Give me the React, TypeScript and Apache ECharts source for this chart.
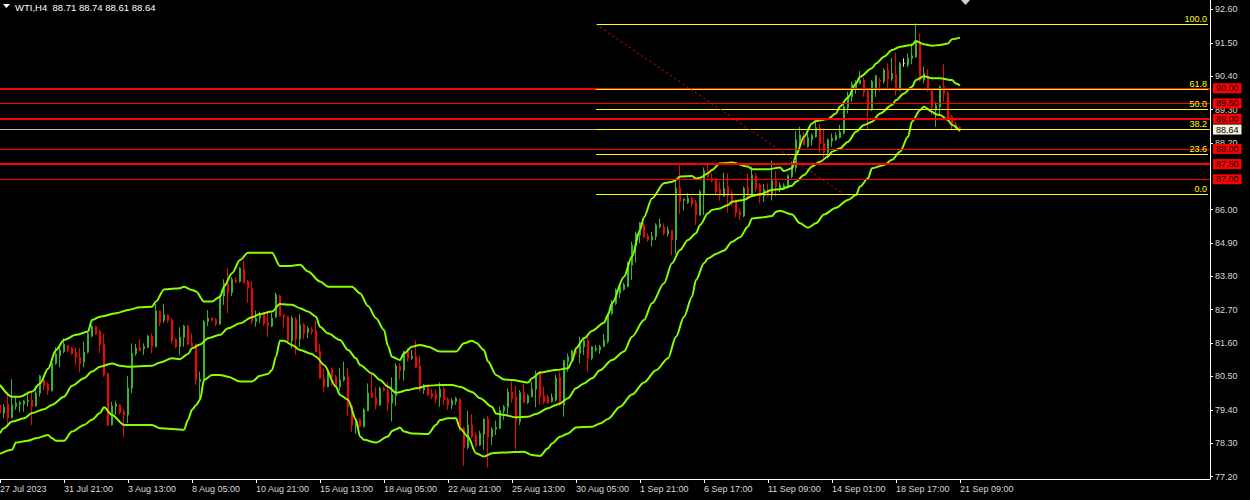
import React, { useEffect, useRef } from "react";
import * as echarts from "echarts";

const header = "WTI,H4  88.71 88.74 88.61 88.64";
const xTickIndex = [0, 16, 32, 48, 64, 80, 96, 112, 128, 144, 160, 176, 192, 208, 224, 240];
const xTickLabels = ["27 Jul 2023", "31 Jul 21:00", "3 Aug 13:00", "8 Aug 05:00", "10 Aug 21:00", "15 Aug 13:00", "18 Aug 05:00", "22 Aug 21:00", "25 Aug 13:00", "30 Aug 05:00", "1 Sep 21:00", "6 Sep 17:00", "11 Sep 09:00", "14 Sep 01:00", "18 Sep 17:00", "21 Sep 09:00"];
const priceTicks = [77.2, 78.3, 79.4, 80.5, 81.6, 82.7, 83.8, 84.9, 86.0, 88.2, 89.3, 90.4, 91.5, 92.6];
const slotCount = 303;

// [open, close, low, high]
const candles: number[][] = [
  [79.56, 79.29, 79.23, 79.67], [79.29, 79.48, 79.12, 79.59], [79.59, 79.14, 78.85, 79.97], [79.14, 79.56, 79.12, 80.41],
  [79.51, 79.62, 79.40, 79.84], [79.59, 79.64, 79.31, 79.69], [79.59, 79.69, 79.34, 79.72], [79.67, 79.72, 79.51, 80.00],
  [79.72, 79.51, 78.90, 80.00], [79.53, 79.95, 79.50, 80.19], [79.95, 80.52, 79.84, 80.55], [80.38, 80.19, 80.05, 80.49],
  [80.24, 80.03, 79.89, 80.30], [80.03, 80.93, 80.00, 80.95], [80.93, 81.24, 80.88, 81.46], [81.18, 81.37, 80.80, 81.50],
  [81.32, 81.56, 81.26, 81.76], [81.52, 81.37, 81.29, 81.54], [81.42, 81.26, 81.21, 81.48], [81.29, 81.13, 80.88, 81.46],
  [81.13, 80.93, 80.63, 81.43], [80.97, 81.30, 80.80, 81.65], [81.30, 81.92, 81.26, 82.01], [81.83, 82.16, 81.79, 82.18],
  [82.14, 81.90, 81.87, 82.16], [81.98, 81.54, 81.26, 82.05], [81.57, 80.55, 80.49, 81.90], [80.60, 78.90, 78.85, 80.60],
  [78.90, 79.53, 78.88, 79.67], [79.51, 79.59, 79.23, 79.70], [79.56, 79.31, 79.26, 79.59], [79.34, 79.23, 78.49, 79.42],
  [79.23, 80.11, 78.96, 80.52], [80.11, 81.26, 79.95, 81.59], [81.26, 81.43, 81.18, 81.57], [81.45, 81.35, 81.32, 81.72],
  [81.42, 81.48, 81.21, 81.59], [81.46, 81.83, 81.43, 81.87], [81.83, 81.48, 81.26, 81.92], [81.48, 82.66, 81.46, 82.89],
  [82.66, 82.27, 82.16, 82.68], [82.34, 82.53, 82.27, 82.89], [82.53, 82.34, 82.27, 82.56], [82.36, 81.68, 81.59, 82.42],
  [81.72, 81.48, 81.43, 81.76], [81.48, 81.79, 81.21, 82.12], [81.79, 82.16, 81.48, 82.20], [82.16, 81.57, 81.54, 82.20],
  [81.59, 81.50, 81.48, 81.92], [81.56, 80.38, 80.22, 81.58], [80.33, 80.41, 79.75, 80.66], [80.38, 82.31, 80.33, 82.36],
  [82.31, 82.42, 82.16, 82.69], [82.42, 82.36, 82.31, 82.45], [82.38, 82.23, 82.16, 82.42], [82.23, 83.15, 82.20, 83.19],
  [83.15, 83.57, 82.86, 83.70], [83.57, 83.26, 82.58, 84.07], [83.26, 83.70, 83.15, 83.77], [83.68, 83.63, 83.57, 83.77],
  [83.63, 84.07, 83.59, 84.10], [84.03, 83.59, 83.57, 84.32], [83.63, 83.41, 82.93, 83.68], [83.41, 82.31, 82.23, 83.63],
  [82.31, 82.42, 82.14, 82.67], [82.42, 82.56, 82.25, 82.64], [82.56, 82.25, 82.16, 82.64], [82.27, 82.16, 81.79, 82.67],
  [82.16, 82.42, 82.12, 82.60], [82.47, 83.19, 82.42, 83.26], [83.15, 82.49, 82.47, 83.19], [82.53, 82.45, 82.12, 82.55],
  [82.47, 81.68, 81.65, 82.49], [81.68, 82.42, 81.43, 82.49], [82.38, 81.73, 81.21, 82.45], [81.73, 82.20, 81.48, 82.56],
  [82.20, 81.92, 81.73, 82.25], [81.95, 82.09, 81.76, 82.16], [82.05, 81.98, 81.87, 82.12], [82.01, 81.32, 81.29, 82.34],
  [81.32, 80.44, 80.41, 81.57], [80.44, 80.16, 79.97, 80.77], [80.16, 80.63, 80.14, 80.66], [80.74, 80.49, 80.19, 80.80],
  [80.49, 80.16, 80.14, 80.55], [80.16, 80.38, 80.03, 80.77], [80.38, 80.49, 80.33, 80.99], [80.49, 79.50, 79.20, 80.77],
  [79.53, 78.90, 78.68, 79.56], [78.85, 79.07, 78.60, 79.12], [79.07, 78.85, 78.82, 79.12], [78.85, 79.40, 78.82, 79.45],
  [79.37, 79.95, 79.35, 80.27], [79.95, 79.81, 79.78, 80.60], [79.81, 79.56, 79.42, 80.14], [79.56, 80.11, 79.53, 80.16],
  [80.11, 80.03, 80.00, 80.16], [80.03, 79.62, 79.37, 80.33], [79.62, 79.90, 79.01, 80.47], [79.86, 80.84, 79.53, 80.93],
  [80.84, 80.69, 80.40, 80.93], [80.69, 81.32, 80.36, 81.35], [81.32, 81.10, 80.99, 81.43], [81.10, 81.17, 81.04, 81.37],
  [81.17, 80.80, 80.77, 81.68], [80.84, 80.05, 80.00, 81.17], [80.05, 80.16, 79.92, 80.25], [80.19, 79.89, 79.86, 80.22],
  [79.94, 79.83, 79.75, 80.08], [79.92, 79.75, 79.61, 80.08], [79.81, 80.08, 79.50, 80.30], [80.10, 79.72, 79.56, 80.22],
  [79.75, 79.56, 79.39, 79.81], [79.56, 79.70, 79.42, 79.78], [79.67, 79.78, 79.56, 79.83], [79.75, 78.73, 78.68, 79.78],
  [78.79, 78.16, 77.55, 78.84], [78.16, 78.90, 78.10, 79.37], [78.90, 78.51, 78.46, 79.26], [78.54, 78.21, 78.16, 78.65],
  [78.24, 78.62, 78.21, 78.71], [78.60, 79.09, 78.08, 79.12], [79.09, 78.49, 77.50, 79.20], [78.51, 78.76, 78.24, 78.82],
  [78.76, 78.82, 78.57, 79.04], [78.79, 79.37, 78.76, 79.50], [79.37, 79.50, 79.07, 79.56], [79.50, 79.99, 79.26, 80.11],
  [79.99, 79.78, 79.64, 80.33], [79.83, 79.01, 78.08, 80.19], [79.01, 79.97, 78.90, 80.05], [79.97, 79.64, 79.61, 80.25],
  [79.64, 79.86, 79.59, 79.92], [79.83, 80.08, 79.81, 80.33], [80.08, 80.55, 79.48, 80.69], [80.66, 79.83, 79.56, 80.69],
  [79.86, 79.67, 79.59, 80.16], [79.81, 79.64, 79.59, 79.89], [79.67, 79.81, 79.64, 79.94], [79.72, 80.44, 79.67, 80.55],
  [80.47, 79.56, 79.53, 80.66], [79.56, 81.02, 79.17, 81.04], [80.99, 81.15, 80.66, 81.26], [81.02, 81.35, 80.99, 81.37],
  [81.37, 81.26, 81.21, 81.43], [81.26, 81.54, 80.93, 81.81], [81.48, 81.68, 81.21, 81.79], [81.68, 81.10, 80.66, 81.81],
  [81.10, 81.48, 81.04, 81.50], [81.37, 81.43, 81.32, 81.54], [81.37, 81.48, 81.24, 81.54], [81.48, 81.70, 81.46, 81.90],
  [81.65, 82.58, 81.59, 82.60], [82.58, 82.97, 82.52, 83.02], [82.91, 83.35, 82.86, 83.40], [83.24, 83.46, 83.08, 83.52],
  [83.37, 83.52, 83.33, 83.59], [83.46, 84.23, 83.44, 84.28], [84.17, 84.83, 83.68, 84.94], [84.83, 85.20, 84.25, 85.27],
  [85.16, 85.57, 84.89, 85.60], [85.49, 85.11, 85.05, 85.55], [85.13, 85.00, 84.94, 85.22], [85.00, 85.11, 84.78, 85.27],
  [85.11, 85.49, 85.00, 85.55], [85.44, 85.53, 85.38, 85.71], [85.42, 85.22, 85.16, 85.55], [85.20, 85.33, 85.11, 85.44],
  [85.31, 85.00, 84.50, 85.33], [85.00, 86.70, 84.54, 87.03], [86.70, 86.26, 85.86, 87.53], [86.30, 86.34, 85.96, 86.37],
  [86.23, 86.37, 86.19, 86.54], [86.37, 86.19, 86.10, 86.43], [86.23, 85.82, 85.49, 86.32], [85.82, 86.59, 85.79, 86.65],
  [86.52, 87.28, 85.82, 87.39], [87.28, 87.09, 87.03, 87.55], [87.03, 86.95, 86.89, 87.20], [86.98, 86.59, 86.51, 87.03],
  [86.67, 86.48, 86.30, 86.92], [86.45, 86.70, 86.43, 87.22], [86.76, 86.48, 85.90, 87.20], [86.54, 86.19, 86.12, 86.63],
  [86.30, 85.90, 85.75, 86.34], [85.93, 85.82, 85.66, 86.01], [85.79, 86.70, 85.75, 86.76], [86.74, 86.48, 86.30, 87.20],
  [86.48, 87.14, 86.43, 87.42], [87.11, 86.70, 86.59, 87.20], [86.81, 86.43, 86.21, 86.87], [86.45, 86.67, 86.26, 86.84],
  [86.65, 86.48, 86.43, 86.87], [86.48, 86.95, 86.30, 87.61], [86.95, 86.76, 86.43, 87.27], [86.70, 86.81, 86.57, 86.90],
  [86.68, 86.79, 86.65, 86.87], [86.72, 87.12, 86.70, 87.16], [87.09, 87.45, 87.03, 87.58], [87.38, 88.30, 87.25, 88.59],
  [88.26, 88.46, 88.11, 88.73], [88.46, 88.15, 88.11, 88.55], [88.08, 88.37, 88.04, 88.51], [88.30, 88.44, 88.11, 88.51],
  [88.40, 88.70, 88.37, 88.92], [88.70, 88.18, 87.86, 88.84], [88.18, 87.89, 87.71, 88.68], [87.89, 88.30, 87.69, 88.35],
  [88.26, 88.35, 88.07, 88.51], [88.30, 88.44, 88.26, 88.55], [88.37, 88.55, 88.35, 88.79], [88.52, 89.39, 88.48, 89.50],
  [89.36, 89.76, 89.17, 89.89], [89.72, 90.13, 89.54, 90.22], [89.98, 90.22, 89.83, 90.27], [90.16, 90.27, 90.13, 90.57],
  [90.27, 89.87, 89.72, 90.35], [89.89, 89.32, 88.62, 90.00], [89.32, 90.22, 89.25, 90.27], [89.94, 90.42, 89.72, 90.44],
  [90.27, 90.22, 89.89, 90.35], [90.22, 90.60, 90.16, 90.66], [90.60, 90.31, 90.02, 90.82], [90.31, 90.49, 90.24, 91.01],
  [90.46, 89.91, 89.76, 91.18], [89.94, 90.82, 89.91, 90.88], [90.82, 90.82, 90.71, 90.99], [90.77, 90.99, 90.71, 91.15],
  [90.99, 91.07, 90.79, 91.48], [91.04, 91.54, 91.01, 92.14], [91.52, 90.27, 90.22, 91.81], [90.27, 90.49, 90.16, 90.71],
  [90.38, 89.94, 89.89, 90.63], [89.91, 89.39, 89.12, 89.94], [89.28, 89.43, 88.73, 89.54], [89.39, 90.05, 89.12, 90.09],
  [90.05, 89.83, 89.56, 90.79], [89.87, 88.99, 88.95, 89.89], [89.06, 88.81, 88.62, 89.12], [88.81, 88.70, 88.62, 88.88],
  [88.71, 88.64, 88.61, 88.74],
];
const dojiIndex = 226;

// Bollinger bands: [bar index, price]
const upperBand: number[][] = [
  [0, 80.22], [3, 79.83], [5, 79.83], [8, 80.0], [10, 80.27], [12, 80.75], [14, 81.37], [16, 81.7], [19, 81.87], [22, 81.98],
  [23, 82.36], [25, 82.47], [29, 82.58], [32, 82.69], [35, 82.78], [38, 82.8], [39, 82.97], [41, 83.37], [45, 83.41], [46, 83.46],
  [48, 83.35], [49, 83.3], [51, 82.97], [53, 82.97], [55, 83.13], [56, 83.46], [58, 83.9], [60, 84.34], [62, 84.58], [68, 84.58],
  [70, 84.14], [72, 84.14], [75, 84.18], [77, 83.96], [80, 83.63], [82, 83.46], [88, 83.46], [90, 83.24], [92, 82.82], [94, 82.42],
  [96, 82.03], [97, 81.5], [98, 81.15], [100, 81.04], [101, 81.26], [103, 81.48], [105, 81.54], [107, 81.48], [110, 81.32], [114, 81.32],
  [116, 81.59], [118, 81.68], [119, 81.61], [121, 81.37], [122, 80.99], [124, 80.55], [126, 80.4], [128, 80.38], [132, 80.3], [133, 80.44],
  [135, 80.63], [139, 80.71], [142, 80.77], [143, 80.99], [144, 81.43], [146, 81.76], [148, 82.0], [151, 82.27], [152, 82.53], [153, 82.91],
  [156, 83.79], [158, 84.45], [160, 85.33], [161, 85.75], [163, 86.37], [166, 86.87], [168, 86.92], [169, 86.98], [170, 87.09], [173, 87.11],
  [174, 87.02], [175, 87.05], [177, 87.2], [178, 87.31], [180, 87.53], [183, 87.55], [187, 87.42], [188, 87.33], [192, 87.33], [195, 87.39],
  [196, 87.27], [198, 87.36], [199, 87.8], [201, 88.4], [203, 88.84], [204, 88.92], [207, 88.99], [209, 89.17], [210, 89.4], [212, 89.7],
  [214, 90.16], [215, 90.38], [218, 90.66], [219, 90.82], [221, 91.04], [223, 91.26], [225, 91.37], [228, 91.43], [229, 91.56], [231, 91.45],
  [233, 91.4], [235, 91.43], [237, 91.48], [238, 91.62], [240, 91.67],
];
const middleBand: number[][] = [
  [0, 78.63], [1, 78.79], [3, 79.01], [6, 79.12], [8, 79.29], [11, 79.42], [13, 79.56], [16, 79.83], [18, 80.19], [21, 80.44],
  [23, 80.66], [25, 80.82], [28, 80.93], [30, 80.85], [32, 80.82], [38, 80.85], [40, 80.96], [43, 81.1], [45, 81.07], [47, 81.24],
  [48, 81.43], [50, 81.55], [52, 81.76], [55, 81.87], [57, 82.09], [60, 82.25], [63, 82.45], [65, 82.56], [68, 82.64], [70, 82.89],
  [73, 82.86], [75, 82.75], [77, 82.64], [79, 82.47], [80, 82.14], [82, 81.92], [85, 81.7], [87, 81.37], [89, 81.1], [90, 80.88],
  [93, 80.6], [95, 80.38], [97, 80.16], [99, 79.96], [102, 80.05], [104, 80.11], [107, 80.19], [110, 80.22], [113, 80.22], [115, 80.16],
  [118, 79.99], [120, 79.78], [123, 79.5], [124, 79.28], [126, 79.23], [129, 79.15], [132, 79.17], [134, 79.26], [137, 79.45], [139, 79.56],
  [140, 79.61], [142, 79.78], [144, 80.11], [146, 80.27], [148, 80.44], [150, 80.7], [153, 81.04], [156, 81.32], [158, 81.81], [161, 82.36],
  [163, 82.91], [166, 83.57], [168, 84.23], [170, 84.67], [172, 85.0], [174, 85.22], [175, 85.49], [177, 85.88], [178, 85.99], [180, 86.04],
  [182, 86.15], [183, 86.26], [186, 86.32], [188, 86.45], [190, 86.51], [193, 86.65], [195, 86.67], [198, 86.79], [199, 86.92], [201, 87.14],
  [203, 87.42], [205, 87.58], [207, 87.75], [208, 87.91], [210, 88.02], [212, 88.24], [214, 88.57], [216, 88.79], [218, 88.9], [220, 89.17],
  [223, 89.45], [224, 89.61], [226, 89.83], [228, 90.05], [229, 90.27], [231, 90.4], [233, 90.33], [235, 90.33], [238, 90.27], [239, 90.16],
  [240, 90.09],
];
const lowerBand: number[][] = [
  [0, 77.95], [3, 78.08], [4, 78.32], [7, 78.38], [9, 78.46], [12, 78.57], [13, 78.46], [14, 78.38], [16, 78.38], [18, 78.68],
  [21, 78.9], [23, 79.07], [25, 79.29], [26, 79.48], [28, 79.23], [31, 78.9], [38, 78.9], [40, 78.79], [46, 78.74], [47, 79.07],
  [48, 79.4], [49, 79.55], [50, 79.73], [51, 80.38], [53, 80.55], [55, 80.55], [57, 80.49], [60, 80.33], [63, 80.33], [65, 80.52],
  [67, 80.58], [68, 80.71], [69, 81.15], [70, 81.68], [71, 81.68], [73, 81.54], [75, 81.37], [78, 81.24], [79, 81.15], [81, 80.88],
  [84, 80.16], [85, 79.89], [87, 79.73], [89, 79.07], [90, 78.52], [91, 78.41], [94, 78.32], [97, 78.52], [98, 78.7], [99, 78.76],
  [100, 78.82], [101, 78.68], [103, 78.62], [107, 78.6], [109, 78.9], [110, 79.06], [112, 79.12], [114, 79.12], [115, 78.79], [117, 78.51],
  [119, 77.97], [121, 77.86], [123, 77.97], [126, 77.99], [131, 78.02], [133, 77.91], [135, 77.88], [137, 78.13], [138, 78.29], [140, 78.51],
  [142, 78.62], [144, 78.82], [148, 78.84], [150, 78.95], [152, 79.1], [155, 79.5], [158, 79.9], [161, 80.3], [164, 80.7], [167, 81.1],
  [169, 81.81], [171, 82.47], [173, 83.13], [174, 83.68], [176, 84.23], [177, 84.39], [179, 84.54], [181, 84.65], [183, 84.94], [185, 85.09],
  [187, 85.44], [188, 85.71], [191, 85.75], [193, 85.79], [194, 85.93], [195, 85.96], [198, 85.84], [200, 85.55], [202, 85.4], [204, 85.55],
  [206, 85.84], [209, 86.06], [212, 86.32], [214, 86.48], [215, 86.76], [217, 87.03], [218, 87.36], [221, 87.47], [223, 87.64], [225, 87.91],
  [227, 88.4], [228, 88.9], [230, 89.28], [231, 89.39], [233, 89.23], [234, 89.14], [235, 89.12], [237, 88.95], [238, 88.79], [240, 88.59],
];

const levelPrices = [90.0, 89.5, 89.0, 88.0, 87.5, 87.0];
const levelWidths = [2, 1, 2, 1, 2, 1];
const fibHigh = 92.11;
const fibLow = 86.505;
const fibLevels = [0, 23.6, 38.2, 50, 61.8, 100];
const fibLabels = ["0.0", "23.6", "38.2", "50.0", "61.8", "100.0"];
const fibStart = 149;
const fibEnd = 302;
const trendEnd = 211;
const bidPrice = 88.64;

const FONT = "Liberation Sans";
const AXIS_TEXT = "#d8d8d8";
const BULL = "#30b830";
const BEAR = "#ff0000";
const BAND = "#86ff00";

export default function App() {
  const ref = useRef<HTMLDivElement>(null);

  useEffect(() => {
    if (!ref.current) return;
    const chart = echarts.init(ref.current, undefined, { renderer: "svg" });

    const labelOf: Record<number, string> = {};
    xTickIndex.forEach((idx, k) => (labelOf[idx] = xTickLabels[k]));
    const categories = Array.from({ length: slotCount }, (_, i) => String(i));
    const showTick = (idx: number) => labelOf[idx] !== undefined;

    const candleData = candles.map((c, i) =>
      i === dojiIndex
        ? { value: c, itemStyle: { color: "#ffe0e0", borderColor: "#ffe0e0", color0: "#ffe0e0", borderColor0: "#ffe0e0" } }
        : c
    );

    const boxLabel = (text: string, bg: string) => ({
      show: true,
      position: "end",
      formatter: text,
      backgroundColor: bg,
      color: "#000000",
      fontSize: 9,
      fontFamily: FONT,
      padding: [1, 3, 0, 3],
      distance: 3,
    });

    const markData: any[] = [];
    markData.push({
      yAxis: bidPrice,
      lineStyle: { color: "#bdbdbd", width: 1, type: "solid" },
      label: boxLabel(bidPrice.toFixed(2), "#f6f2dc"),
    });
    levelPrices.forEach((p, k) =>
      markData.push({
        yAxis: p,
        lineStyle: { color: "#ff0000", width: levelWidths[k], type: "solid" },
        label: boxLabel(p.toFixed(2), "#ff0000"),
      })
    );
    fibLevels.forEach((lv, k) => {
      const p = fibLow + ((fibHigh - fibLow) * lv) / 100;
      markData.push([
        {
          coord: [fibStart, p],
          lineStyle: { color: "#ffff00", width: 1, type: "solid" },
          label: { show: true, position: "insideEndTop", formatter: fibLabels[k], color: "#ffff00", fontSize: 9, fontFamily: FONT, distance: 1 },
        },
        { coord: [fibEnd, p] },
      ]);
    });
    markData.push([
      {
        coord: [fibStart, fibHigh],
        lineStyle: { color: "#ff0000", width: 1, type: [2, 3] },
        label: { show: false },
      },
      { coord: [trendEnd, fibLow] },
    ]);

    const bandSeries = (name: string, data: number[][]) => ({
      name,
      type: "line",
      data,
      showSymbol: false,
      symbol: "none",
      connectNulls: true,
      smooth: 0.3,
      smoothMonotone: "x",
      lineStyle: { color: BAND, width: 2 },
      z: 4,
      silent: true,
    });

    chart.setOption({
      animation: false,
      backgroundColor: "#000000",
      textStyle: { fontFamily: FONT },
      grid: { left: -2, right: 40, top: 0, bottom: 21, containLabel: false, outerBoundsMode: "none" },
      xAxis: {
        type: "category",
        data: categories,
        boundaryGap: true,
        axisLine: { show: true, lineStyle: { color: "#ffffff", width: 1 } },
        axisTick: { show: true, length: 4, alignWithLabel: true, interval: (idx: number) => showTick(idx), lineStyle: { color: "#ffffff" } },
        axisLabel: {
          show: true,
          interval: (idx: number) => showTick(idx),
          formatter: (_v: string, idx: number) => labelOf[idx] ?? "",
          align: "left",
          color: AXIS_TEXT,
          fontSize: 9,
          fontFamily: FONT,
          margin: 5,
        },
        splitLine: { show: false },
      },
      yAxis: {
        type: "value",
        position: "right",
        min: 77.118,
        max: 92.911,
        axisLine: { show: true, lineStyle: { color: "#ffffff", width: 1 } },
        axisTick: { show: true, length: 3, customValues: priceTicks, lineStyle: { color: "#ffffff" } },
        axisLabel: {
          show: true,
          customValues: priceTicks,
          formatter: (v: number) => v.toFixed(2),
          color: AXIS_TEXT,
          fontSize: 9,
          fontFamily: FONT,
          margin: 5,
        },
        splitLine: { show: false },
      },
      series: [
        {
          name: "WTI",
          type: "candlestick",
          data: candleData,
          barWidth: 2,
          z: 3,
          itemStyle: { color: BULL, color0: BEAR, borderColor: BULL, borderColor0: BEAR, borderWidth: 1 },
          markLine: {
            silent: true,
            symbol: ["none", "none"],
            animation: false,
            data: markData,
          },
        },
        bandSeries("Upper", upperBand),
        bandSeries("Middle", middleBand),
        bandSeries("Lower", lowerBand),
      ],
      graphic: [
        { type: "polygon", shape: { points: [[3, 4], [10, 4], [6.5, 8]] }, style: { fill: "#ffffff" } },
        { type: "text", x: 15, y: 2, style: { text: header, fill: "#ffffff", fontSize: 9.5, fontFamily: FONT } },
        { type: "polygon", shape: { points: [[961, 0], [970, 0], [965.5, 5]] }, style: { fill: "#d0d0d0" } },
      ],
    });

    return () => chart.dispose();
  }, []);

  return (
    <div
      ref={ref}
      style={{ position: "fixed", left: 0, top: 0, width: 1250, height: 500, background: "#000000" }}
    />
  );
}
